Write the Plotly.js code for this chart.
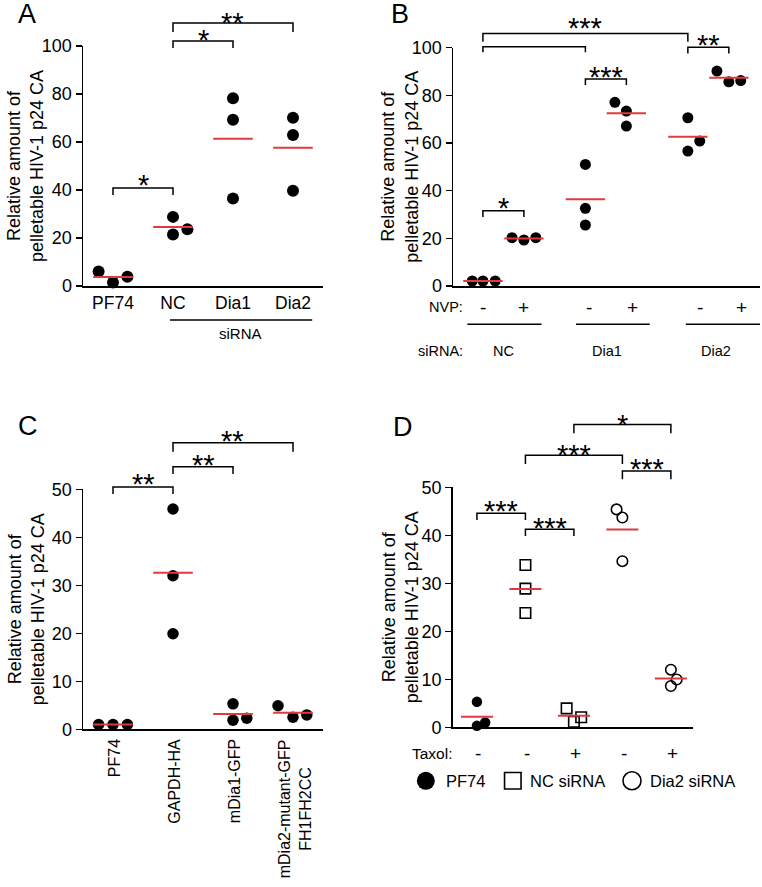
<!DOCTYPE html>
<html><head><meta charset="utf-8">
<script src="https://cdn.plot.ly/plotly-3.0.1.min.js"></script>
<style>html,body{margin:0;padding:0;background:#fff}#chart{width:762px;height:887px}</style>
</head><body><div id="chart"></div>
<script>
// ================= DATA =================
// Panel A
const aCategories = ['PF74', 'NC', 'Dia1', 'Dia2'];
const aValues = [[6.0, 1.5, 3.9], [28.8, 21.5, 23.6], [78.2, 69.3, 36.5], [70.1, 62.9, 39.7]];
const aTicks = [0, 20, 40, 60, 80, 100];
// Panel B
const bNVP = ['-', '+', '-', '+', '-', '+'];
const bSiRNA = ['NC', 'Dia1', 'Dia2'];
const bValues = [[2.1, 2.1, 2.1], [20.3, 19.3, 20.3], [51.0, 32.6, 25.6], [77.1, 73.4, 67.1], [70.6, 60.8, 56.6], [90.2, 85.7, 86.2]];
const bTicks = [0, 20, 40, 60, 80, 100];
// Panel C
const cCategories = ['PF74', 'GAPDH-HA', 'mDia1-GFP', 'mDia2-mutant-GFP<br>FH1FH2CC'];
const cValues = [[1.0, 1.0, 1.0], [45.9, 32.0, 19.9], [5.3, 1.9, 2.3], [4.9, 2.5, 3.0]];
const cTicks = [0, 10, 20, 30, 40, 50];
// Panel D
const dTaxol = ['-', '-', '+', '-', '+'];
const dGroups = ['PF74', 'NC siRNA', 'NC siRNA', 'Dia2 siRNA', 'Dia2 siRNA'];
const dValues = [[5.3, 0.3, 1.0], [33.8, 28.9, 23.8], [3.95, 1.17, 2.08], [45.4, 43.7, 34.6], [12.0, 9.96, 8.6]];
const dTicks = [0, 10, 20, 30, 40, 50];
const legendNames = ['PF74', 'NC siRNA', 'Dia2 siRNA'];

// ================= POSITIONS / STYLE =================
const aJitter = [[-0.24, 0, 0.24], [0, 0, 0.24], [0, 0, 0], [0, 0, 0]];
const bPositions = [0, 1, 2.5, 3.5, 5, 6];
const bJitter = [[-0.26, 0, 0.3], [-0.29, 0, 0.29], [0, 0, 0], [-0.28, 0, 0], [0, 0.29, 0], [-0.29, 0, 0.29]];
const bSignPos = [0, 1, 2.6, 3.65, 5.3, 6.3];
const cJitter = [[-0.24, 0, 0.24], [0, 0, 0], [0, 0, 0.23], [-0.25, 0, 0.23]];
const dJitter = [[0, 0, 0.17], [0, 0, 0], [-0.15, 0, 0.15], [-0.12, 0, 0], [0, 0.12, 0]];
const dSymbols = {'PF74': 'circle', 'NC siRNA': 'square-open', 'Dia2 siRNA': 'circle-open'};

const W = 762, H = 887;
const FONT = 'Liberation Sans, Arial, Helvetica, sans-serif';
const RED = '#e03a3e';
const BLACK = '#000';
const STAR_FS = 29;

function panel(xa, ya, pxL, pxR, pxT, pxB, xr, yr) {
  return {xa, ya, xd: [pxL / W, pxR / W], yd: [1 - pxB / H, 1 - pxT / H], xr, yr};
}
const PA = panel('x', 'y', 83, 323, 46, 286, [-0.5, 3.5], [0, 100]);
const PB = panel('x2', 'y2', 453, 760, 47.7, 286, [-0.73, 6.76], [0, 100]);
const PC = panel('x3', 'y3', 83, 323, 489.3, 729.3, [-0.5, 3.5], [0, 50]);
const PD = panel('x4', 'y4', 452.7, 692.7, 487.3, 727.3, [-0.5, 4.45], [0, 50]);

const X = (p, v) => p.xd[0] + (v - p.xr[0]) / (p.xr[1] - p.xr[0]) * (p.xd[1] - p.xd[0]);
const Y = (p, v) => p.yd[0] + (v - p.yr[0]) / (p.yr[1] - p.yr[0]) * (p.yd[1] - p.yd[0]);
const pxX = px => px / W;
const pxY = py => 1 - py / H;
const mean = a => a.reduce((s, v) => s + v, 0) / a.length;

const traces = [];
const shapes = [];
const annotations = [];

function addDots(p, centers, values, jitter, symbols, size) {
  const bySym = {};
  values.forEach((grp, i) => {
    const sym = symbols[i];
    if (!bySym[sym]) bySym[sym] = {x: [], y: []};
    grp.forEach((v, j) => { bySym[sym].x.push(centers[i] + jitter[i][j]); bySym[sym].y.push(v); });
  });
  Object.keys(bySym).forEach(sym => {
    const open = sym.indexOf('open') >= 0;
    traces.push({
      type: 'scatter', mode: 'markers', xaxis: p.xa, yaxis: p.ya, cliponaxis: false,
      x: bySym[sym].x, y: bySym[sym].y, hoverinfo: 'skip',
      marker: {symbol: sym, size: size, color: BLACK, line: {color: BLACK, width: open ? 1.6 : 0}}
    });
  });
}
function addMeans(p, centers, values, halfW) {
  const x = [], y = [];
  values.forEach((grp, i) => {
    const m = mean(grp);
    x.push(centers[i] - halfW, centers[i] + halfW, null);
    y.push(m, m, null);
  });
  traces.push({type: 'scatter', mode: 'lines', xaxis: p.xa, yaxis: p.ya, cliponaxis: false,
    x, y, hoverinfo: 'skip', line: {color: RED, width: 2}});
}
function bracket(p, x0, x1, yTop, yDrop, stars, starY) {
  const xa = X(p, x0), xb = X(p, x1), yt = Y(p, yTop), yd = Y(p, yDrop);
  shapes.push({type: 'path', xref: 'paper', yref: 'paper',
    path: `M ${xa},${yd} L ${xa},${yt} L ${xb},${yt} L ${xb},${yd}`,
    line: {color: BLACK, width: 1.5}});
  if (stars) {
    annotations.push({xref: 'paper', yref: 'paper', x: (xa + xb) / 2, y: Y(p, starY),
      text: stars, showarrow: false, xanchor: 'center', yanchor: 'middle',
      yshift: -0.23 * STAR_FS, font: {size: STAR_FS, family: FONT, color: BLACK}});
  }
}
function text(xpx, ypx, t, size, xanchor, extra) {
  annotations.push(Object.assign({xref: 'paper', yref: 'paper', x: pxX(xpx), y: pxY(ypx), text: t,
    showarrow: false, xanchor: xanchor || 'center', yanchor: 'middle',
    font: {size: size, family: FONT, color: BLACK}}, extra || {}));
}
function hline(p, x0, x1, ypx) {
  shapes.push({type: 'line', xref: 'paper', yref: 'paper', x0: X(p, x0), x1: X(p, x1), y0: pxY(ypx), y1: pxY(ypx),
    line: {color: BLACK, width: 1.5}});
}
function yTitle(xpx, p) {
  annotations.push({xref: 'paper', yref: 'paper', x: pxX(xpx), y: (p.yd[0] + p.yd[1]) / 2,
    text: 'Relative amount of<br>pelletable HIV-1 p24 CA', textangle: -90, showarrow: false,
    xanchor: 'center', yanchor: 'middle', align: 'center', font: {size: 18, family: FONT, color: BLACK}});
}

// ---------- Panel A ----------
const aCenters = aCategories.map((c, i) => i);
addDots(PA, aCenters, aValues, aJitter, aCategories.map(() => 'circle'), 12);
addMeans(PA, aCenters, aValues, 0.33);
bracket(PA, 0, 1, 40.8, 37.9, '*', 45);
bracket(PA, 1, 2, 102.1, 99.2, '*', 105.4);
bracket(PA, 1, 3, 109.6, 105.8, '**', 112.5);
hline(PA, 0.95, 3.32, 320);
text(241, 333, 'siRNA', 15);
text(27, 14, 'A', 27);
yTitle(25, PA);

// ---------- Panel B ----------
addDots(PB, bPositions, bValues, bJitter, bValues.map(() => 'circle'), 11);
addMeans(PB, bPositions, bValues, 0.48);
bracket(PB, 0, 1, 31.6, 29.0, '*', 35.4);
bracket(PB, 2.5, 3.5, 86.9, 84.3, '***', 90.6);
bracket(PB, 5, 6, 100.2, 97.6, '**', 104.1);
bracket(PB, 0, 2.5, 100.4, 98.1, '', 0);
bracket(PB, 0, 5, 106.0, 102.5, '***', 110.9);
text(465, 307, 'NVP:', 14.5, 'right');
bNVP.forEach((s, i) => annotations.push({xref: PB.xa, yref: 'paper', x: bSignPos[i], y: pxY(307), text: s,
  showarrow: false, xanchor: 'center', yanchor: 'middle', font: {size: 19, family: FONT, color: BLACK}}));
const bLineSpans = [[-0.38, 1.43], [2.27, 4.07], [4.95, 6.76]];
const bLabelPos = [0.5, 3.03, 5.68];
bLineSpans.forEach(s => hline(PB, s[0], s[1], 324.3));
text(465, 351, 'siRNA:', 14.5, 'right');
bSiRNA.forEach((s, i) => annotations.push({xref: PB.xa, yref: 'paper', x: bLabelPos[i], y: pxY(351), text: s,
  showarrow: false, xanchor: 'center', yanchor: 'middle', font: {size: 14.5, family: FONT, color: BLACK}}));
text(400, 14, 'B', 27);
yTitle(400, PB);

// ---------- Panel C ----------
const cCenters = cCategories.map((c, i) => i);
addDots(PC, cCenters, cValues, cJitter, cCategories.map(() => 'circle'), 11.5);
addMeans(PC, cCenters, cValues, 0.33);
bracket(PC, 0, 1, 50.5, 49.0, '**', 52.4);
bracket(PC, 1, 2, 54.7, 53.2, '**', 56.5);
bracket(PC, 1, 3, 59.7, 57.8, '**', 61.5);
cCategories.forEach((c, i) => annotations.push({xref: PC.xa, yref: 'paper', x: i + (i === 3 ? 0.03 : 0.02), y: pxY(738),
  text: c, textangle: -90, showarrow: false, xanchor: 'center', yanchor: 'top', align: 'center', borderpad: 0,
  font: {size: 16, family: FONT, color: BLACK}}));
text(28, 426, 'C', 27);
yTitle(26, PC);

// ---------- Panel D ----------
const dCenters = dGroups.map((g, i) => i);
addDots(PD, dCenters, dValues, dJitter, dGroups.map(g => dSymbols[g]), 10.5);
addMeans(PD, dCenters, dValues, 0.33);
bracket(PD, 0, 1, 44.6, 43.2, '***', 46.5);
bracket(PD, 1, 2, 41.25, 39.85, '***', 43.0);
bracket(PD, 1, 3, 56.7, 54.85, '***', 58.1);
bracket(PD, 3, 4, 53.4, 51.7, '***', 55.1);
bracket(PD, 2, 4, 63.1, 61.25, '*', 64.4);
text(455, 753, 'Taxol:', 15.5, 'right');
dTaxol.forEach((s, i) => annotations.push({xref: PD.xa, yref: 'paper', x: i + 0.03, y: pxY(753), text: s,
  showarrow: false, xanchor: 'center', yanchor: 'middle', font: {size: 19, family: FONT, color: BLACK}}));
text(403, 427, 'D', 27);
yTitle(400, PD);

// legend (drawn)
const legendSpec = [
  {cx: 425.8, sym: 'circle', fill: true, d: 18, tx: 444},
  {cx: 512.8, sym: 'square', fill: false, d: 16.5, tx: 528},
  {cx: 632, sym: 'circle', fill: false, d: 18, tx: 648}
];
legendSpec.forEach((s, i) => {
  const cy = 780.8, r = s.d / 2;
  shapes.push({type: s.sym === 'circle' ? 'circle' : 'rect', xref: 'paper', yref: 'paper',
    x0: pxX(s.cx - r), x1: pxX(s.cx + r), y0: pxY(cy + r), y1: pxY(cy - r),
    fillcolor: s.fill ? BLACK : 'rgba(0,0,0,0)', line: {color: BLACK, width: s.fill ? 0 : 1.6}});
  text(s.tx, cy, legendNames[i], 16.5, 'left');
});

// ================= LAYOUT =================
function xAxis(p, extra) {
  return Object.assign({domain: p.xd, range: p.xr, anchor: p.ya, showline: true, linecolor: BLACK, linewidth: 1.5,
    ticks: '', showgrid: false, zeroline: false, fixedrange: true, showticklabels: false}, extra || {});
}
function yAxis(p, tv) {
  return {domain: p.yd, range: p.yr, anchor: p.xa, showline: true, linecolor: BLACK, linewidth: 1.5,
    ticks: 'outside', ticklen: 6, tickwidth: 1.5, tickcolor: BLACK, tickvals: tv, ticktext: tv.map(String),
    showgrid: false, zeroline: false, fixedrange: true, tickfont: {size: 18, family: FONT, color: BLACK}};
}

const layout = {
  width: W, height: H, margin: {l: 0, r: 0, t: 0, b: 0},
  paper_bgcolor: '#fff', plot_bgcolor: 'rgba(0,0,0,0)', showlegend: false,
  font: {family: FONT, color: BLACK, size: 18},
  xaxis: xAxis(PA, {showticklabels: true, tickvals: aCenters, ticktext: aCategories,
    tickfont: {size: 17.5, family: FONT, color: BLACK}}),
  yaxis: yAxis(PA, aTicks),
  xaxis2: xAxis(PB), yaxis2: yAxis(PB, bTicks),
  xaxis3: xAxis(PC), yaxis3: yAxis(PC, cTicks),
  xaxis4: xAxis(PD), yaxis4: yAxis(PD, dTicks),
  shapes, annotations
};

Plotly.newPlot('chart', traces, layout, {staticPlot: true, displayModeBar: false});
</script>
</body></html>
